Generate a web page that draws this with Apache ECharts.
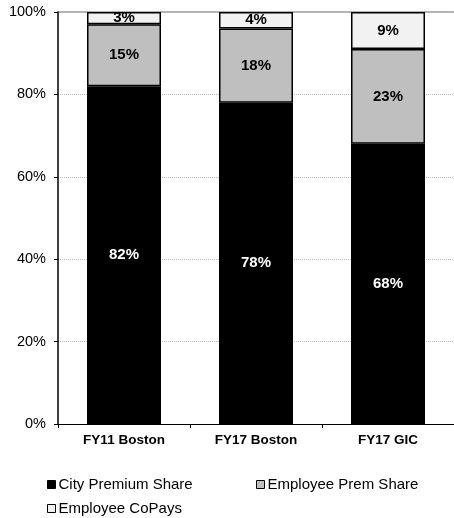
<!DOCTYPE html>
<html><head><meta charset="utf-8">
<script src="https://cdn.jsdelivr.net/npm/echarts@6/dist/echarts.min.js"></script>
<style>html,body{margin:0;padding:0;background:#fff}#c{width:454px;height:518px}</style>
</head><body><div id="c"></div>
<script>
const categories = ["FY11 Boston", "FY17 Boston", "FY17 GIC"];
const cityPremium = [82, 78, 68];
const employeePrem = [15, 18, 23];
const employeeCoPays = [3, 4, 9];
const yTicks = [0, 20, 40, 60, 80, 100];
const seriesNames = ['City Premium Share', 'Employee Prem Share', 'Employee CoPays'];
const seriesColors = ['#000', '#bfbfbf', '#f2f2f2'];

const chart = echarts.init(document.getElementById('c'), null, {renderer: 'canvas'});
const font = 'Arial, "Liberation Sans", sans-serif';
function mk(i, data, labelColor) {
  return {
    name: seriesNames[i], type: 'bar', stack: 'a', data, barWidth: 74,
    itemStyle: {color: seriesColors[i], borderColor: '#000', borderWidth: 1.5},
    label: {show: true, position: 'inside', formatter: '{c}%', color: labelColor,
      fontFamily: font, fontWeight: 'bold', fontSize: 15},
    emphasis: {disabled: true}
  };
}
const legendPos = [[47, 477], [256, 477], [47, 501]];
const legends = seriesNames.map((n, i) => ({
  left: legendPos[i][0], top: legendPos[i][1], padding: 0,
  itemWidth: 8, itemHeight: 8, icon: 'rect', selectedMode: false,
  textStyle: {fontFamily: font, fontSize: 15, color: '#000', padding: [0, 0, 0, -2]},
  data: [{name: n, itemStyle: {color: seriesColors[i], borderColor: '#000', borderWidth: 1}}]
}));
chart.setOption({
  animation: false,
  grid: {left: 58, right: 0, top: 12, bottom: 94, containLabel: false},
  legend: legends,
  xAxis: {
    type: 'category', data: categories,
    axisLine: {lineStyle: {color: '#000', width: 1}},
    axisTick: {show: true, length: 4, lineStyle: {color: '#000'}},
    axisLabel: {fontFamily: font, fontWeight: 'bold', fontSize: 13.5, color: '#000', margin: 9}
  },
  yAxis: {
    type: 'value', min: 0, max: 100, interval: 20,
    axisLine: {show: true, lineStyle: {color: '#000', width: 1.5}},
    axisTick: {show: true, length: 4, lineStyle: {color: '#000'}},
    axisLabel: {fontFamily: font, fontSize: 14.5, color: '#000', margin: 12,
      formatter: v => yTicks.includes(v) ? v + '%' : ''},
    splitLine: {show: true, lineStyle: {color: '#bbb', type: 'dotted', width: 1}}
  },
  series: [
    mk(0, cityPremium, '#fff'),
    mk(1, employeePrem, '#000'),
    mk(2, employeeCoPays, '#000')
  ],
  graphic: [{
    type: 'line', z: 0,
    shape: {x1: 58, y1: 12, x2: 454, y2: 12},
    style: {stroke: '#999', lineWidth: 1.5}
  }]
});
</script></body></html>
